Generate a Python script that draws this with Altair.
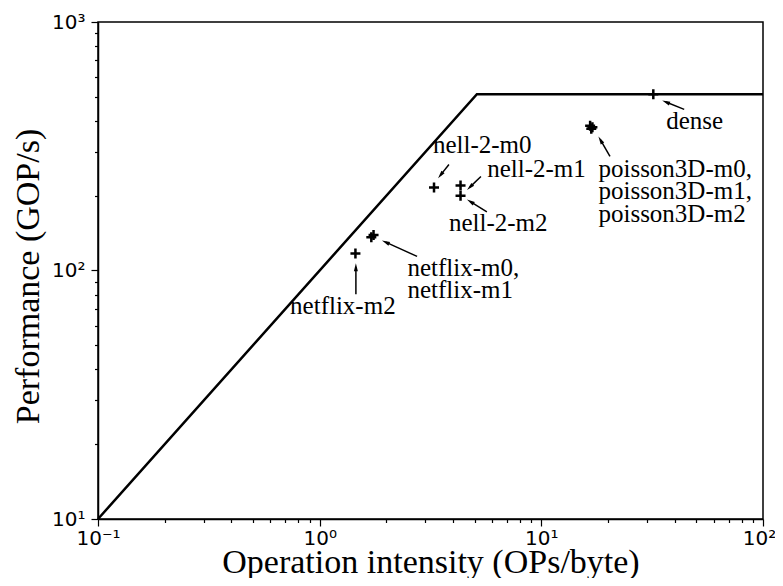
import math
import altair as alt
import pandas as pd

# Roofline (bandwidth slope then compute ceiling)
roof_x = [0.1, 5.12, 100]
roof_y = [10, 512, 512]

# Measured kernels
pt_name = ["dense", "poisson3D-m0", "poisson3D-m1", "poisson3D-m2",
           "nell-2-m0", "nell-2-m1", "nell-2-m2",
           "netflix-m0", "netflix-m1", "netflix-m2"]
pt_x = [32.0, 16.6, 17.0, 16.8, 3.28, 4.32, 4.32, 1.71, 1.75, 1.45]
pt_y = [512, 382, 377, 372, 216, 220, 200, 136, 139, 117]

# Annotation labels (y is the first line's position)
lab_text = ["dense", "poisson3D-m0,\npoisson3D-m1,\npoisson3D-m2", "nell-2-m0",
            "nell-2-m1", "nell-2-m2", "netflix-m0,\nnetflix-m1", "netflix-m2"]
lab_x = [49.2, 18.1, 3.245, 5.70, 3.83, 2.49, 0.7356]
lab_y = [400, 257, 321, 255, 155, 102.8, 71.8]
lab_align = ["center", "left", "left", "left", "left", "left", "left"]

# Annotation arrows (tail -> head)
arr_tail_x = [44.1, 20.4, 3.83, 5.34, 5.68, 2.75, 1.457]
arr_tail_y = [445, 288, 267, 239, 172, 114, 80.3]
arr_head_x = [35.1, 18.1, 3.42, 4.62, 4.62, 1.91, 1.457]
arr_head_y = [483, 346, 235, 211, 193, 132, 107]

# Tick values
x_ticks = [0.1, 0.2, 0.3, 0.4, 0.5, 0.6, 0.7, 0.8, 0.9,
           1, 2, 3, 4, 5, 6, 7, 8, 9,
           10, 20, 30, 40, 50, 60, 70, 80, 90, 100]
y_ticks = [10, 20, 30, 40, 50, 60, 70, 80, 90,
           100, 200, 300, 400, 500, 600, 700, 800, 900, 1000]

W, H = 665, 497
XDOM = [0.1, 100]
YDOM = [10, 1000]
kx = W / (math.log10(XDOM[1]) - math.log10(XDOM[0]))
ky = H / (math.log10(YDOM[1]) - math.log10(YDOM[0]))

# arrow head geometry (direction computed in screen space)
HEAD_BACK = 4.0
head_rows = []
rule_rows = []
for tx, ty, hx, hy in zip(arr_tail_x, arr_tail_y, arr_head_x, arr_head_y):
    ltx, lty, lhx, lhy = map(math.log10, (tx, ty, hx, hy))
    dx = kx * (lhx - ltx)
    dy = -ky * (lhy - lty)
    L = math.hypot(dx, dy)
    ux, uy = dx / L, dy / L
    ang = math.degrees(math.atan2(ux, -uy)) % 360
    cx = 10 ** (lhx - HEAD_BACK * ux / kx)
    cy = 10 ** (lhy + HEAD_BACK * uy / ky)
    head_rows.append({"x": cx, "y": cy, "angle": ang})
    rule_rows.append({"x": tx, "y": ty, "x2": cx, "y2": cy})

roof_df = pd.DataFrame({"x": roof_x, "y": roof_y})
pt_df = pd.DataFrame({"name": pt_name, "x": pt_x, "y": pt_y})
lab_df = pd.DataFrame({"text": lab_text, "x": lab_x, "y": lab_y, "align": lab_align})
head_df = pd.DataFrame(head_rows)
rule_df = pd.DataFrame(rule_rows)

major = "abs(log(datum.value)/LN10 - round(log(datum.value)/LN10)) < 0.001"

x_axis = alt.Axis(
    values=x_ticks,
    labelExpr="datum.value == 0.1 ? '10⁻¹' : datum.value == 1 ? '10⁰' : datum.value == 10 ? '10¹' : datum.value == 100 ? '10²' : ''",
    tickSize={"condition": {"test": major, "value": 7}, "value": 3.5},
    labelOffset={"condition": {"test": "datum.value == 100", "value": -4}, "value": 0},
    title="Operation intensity (OPs/byte)",
    labelFont="DejaVu Sans", labelFontSize=20, labelColor="black",
    labelPadding=2, labelFlush=False, labelOverlap=False,
    titleFont="Liberation Serif", titleFontSize=34, titleFontWeight="normal",
    titleColor="black", titleY=53, titleBaseline="alphabetic",
    grid=False, domainColor="black", domainWidth=1.5,
    tickColor="black", tickWidth=1.2,
)
y_axis = alt.Axis(
    values=y_ticks,
    labelExpr="datum.value == 10 ? '10¹' : datum.value == 100 ? '10²' : datum.value == 1000 ? '10³' : ''",
    tickSize={"condition": {"test": major, "value": 7}, "value": 3.5},
    title="Performance (GOP/s)",
    labelFont="DejaVu Sans", labelFontSize=20, labelColor="black",
    labelPadding=6, labelFlush=False, labelOverlap=False,
    titleFont="Liberation Serif", titleFontSize=34, titleFontWeight="normal",
    titleColor="black", titleX=-60, titleY=254, titleBaseline="alphabetic",
    grid=False, domainColor="black", domainWidth=1.5,
    tickColor="black", tickWidth=1.2,
)

xs = alt.Scale(type="log", domain=XDOM, nice=False)
ys = alt.Scale(type="log", domain=YDOM, nice=False)

roof = alt.Chart(roof_df).mark_line(color="black", strokeWidth=2.5).encode(
    x=alt.X("x:Q", scale=xs, axis=x_axis),
    y=alt.Y("y:Q", scale=ys, axis=y_axis),
)

pts = alt.Chart(pt_df).mark_point(
    shape="M-1,0L1,0M0,-1L0,1", filled=False, stroke="black",
    strokeWidth=2.5, size=100, opacity=1,
).encode(x=alt.X("x:Q", scale=xs), y=alt.Y("y:Q", scale=ys))

rules = alt.Chart(rule_df).mark_rule(color="black", strokeWidth=1.5).encode(
    x=alt.X("x:Q", scale=xs), y=alt.Y("y:Q", scale=ys),
    x2="x2:Q", y2="y2:Q",
)

heads = alt.Chart(head_df).mark_point(
    shape="M0,-1L0.5,1L-0.5,1Z", filled=True, color="black",
    size=64, opacity=1,
).encode(
    x=alt.X("x:Q", scale=xs), y=alt.Y("y:Q", scale=ys),
    angle=alt.Angle("angle:Q", scale=None),
)

texts_left = alt.Chart(lab_df[lab_df["align"] == "left"]).mark_text(
    align="left", baseline="middle", font="Liberation Serif", fontSize=25,
    lineBreak="\n", lineHeight=22.5, color="black",
).encode(x=alt.X("x:Q", scale=xs), y=alt.Y("y:Q", scale=ys), text="text:N")

texts_center = alt.Chart(lab_df[lab_df["align"] == "center"]).mark_text(
    align="center", baseline="middle", font="Liberation Serif", fontSize=25,
    lineBreak="\n", lineHeight=22.5, color="black",
).encode(x=alt.X("x:Q", scale=xs), y=alt.Y("y:Q", scale=ys), text="text:N")

chart = alt.layer(roof, rules, heads, pts, texts_left, texts_center).properties(
    width=W, height=H,
    autosize=alt.AutoSizeParams(type="none"),
    padding={"left": 90, "top": 14, "right": 12, "bottom": 59},
).configure_view(stroke="black", strokeWidth=1.5)

chart.save("out.html", embed_options={"renderer": "svg", "actions": False})
